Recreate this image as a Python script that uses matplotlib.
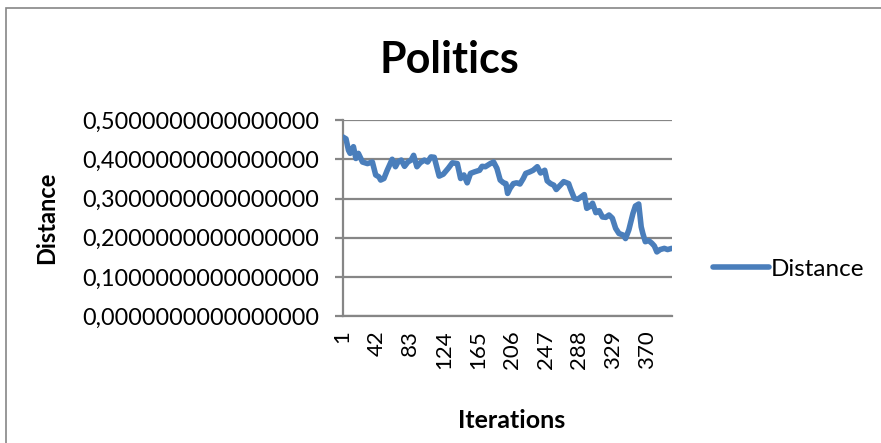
import matplotlib
matplotlib.use("Agg")
import matplotlib.pyplot as plt
from matplotlib.patches import Rectangle

# Iteration index and distance value at each sampled point of the run
iterations = [1, 5, 8, 10, 12, 14, 17, 20, 25, 31, 37, 41, 45, 47, 51, 55, 61, 65,
              68, 72, 76, 80, 84, 87, 91, 95, 100, 104, 108, 112, 118, 123, 129,
              134, 140, 144, 148, 152, 156, 161, 167, 170, 174, 180, 184, 188, 192,
              196, 199, 201, 204, 208, 212, 216, 220, 223, 228, 232, 237, 241, 246,
              249, 253, 257, 260, 264, 269, 275, 277, 282, 286, 290, 294, 297, 301,
              304, 308, 312, 316, 320, 324, 328, 332, 336, 341, 344, 348, 353, 356,
              360, 363, 365, 368, 372, 376, 379, 382, 386, 391, 395, 400]
distance = [0.457, 0.452, 0.423, 0.415, 0.423, 0.432, 0.402, 0.415, 0.393, 0.389,
            0.393, 0.360, 0.355, 0.347, 0.351, 0.372, 0.400, 0.381, 0.393, 0.398,
            0.382, 0.393, 0.398, 0.410, 0.381, 0.391, 0.398, 0.393, 0.406, 0.405,
            0.357, 0.362, 0.377, 0.391, 0.389, 0.351, 0.360, 0.340, 0.364, 0.368,
            0.372, 0.382, 0.381, 0.389, 0.393, 0.377, 0.347, 0.340, 0.338, 0.313,
            0.326, 0.338, 0.340, 0.337, 0.351, 0.364, 0.368, 0.372, 0.381, 0.365,
            0.372, 0.345, 0.338, 0.334, 0.323, 0.332, 0.343, 0.338, 0.326, 0.300,
            0.298, 0.304, 0.310, 0.275, 0.280, 0.288, 0.264, 0.269, 0.253, 0.252,
            0.258, 0.250, 0.224, 0.211, 0.207, 0.198, 0.220, 0.262, 0.281, 0.286,
            0.228, 0.211, 0.190, 0.193, 0.186, 0.179, 0.164, 0.170, 0.173, 0.170,
            0.173]

x_ticks = [1, 42, 83, 124, 165, 206, 247, 288, 329, 370]
y_ticks = [0.0, 0.1, 0.2, 0.3, 0.4, 0.5]
y_tick_labels = [f"{v:.16f}".replace(".", ",") for v in y_ticks]

plt.rcParams["font.family"] = ["Lato", "DejaVu Sans"]

W, H = 881, 443
fig = plt.figure(figsize=(W / 100, H / 100), dpi=100)
fig.patch.set_facecolor("white")

# chart frame
fig.patches.append(Rectangle((6 / W, -0.05), 1.2, (H - 8) / H + 0.05,
                             transform=fig.transFigure, fill=False,
                             edgecolor="#868686", linewidth=1.2))

ax = fig.add_axes([342.7 / W, (H - 316.3) / H, 329 / W, 196.3 / H])
grid_col = "#868686"

line, = ax.plot(iterations, distance, color="#4a7ebb", linewidth=4.0,
                solid_joinstyle="round", solid_capstyle="round",
                label="Distance", zorder=3)

ax.set_xlim(1, 400)
ax.set_ylim(0, 0.5)
ax.set_yticks(y_ticks)
ax.set_yticklabels(y_tick_labels, fontsize=16.8, color="black")
ax.set_xticks(x_ticks)
ax.set_xticklabels([str(t) for t in x_ticks], rotation=90, fontsize=16,
                   va="top", ha="center")

ax.yaxis.grid(True, color=grid_col, linewidth=1.6)
ax.set_axisbelow(True)
for s in ["top", "right"]:
    ax.spines[s].set_visible(False)
ax.spines["left"].set_color(grid_col)
ax.spines["left"].set_linewidth(1.6)
ax.spines["bottom"].set_color(grid_col)
ax.spines["bottom"].set_linewidth(1.6)
ax.tick_params(axis="y", length=6, width=1.6, color=grid_col, pad=11)
ax.tick_params(axis="x", length=0, pad=10)

ax.set_ylabel("Distance", fontsize=17, fontweight="bold")
ax.yaxis.set_label_coords((47 - 342.7) / 329, 0.5)
ax.set_xlabel("Iterations", fontsize=18, fontweight="bold")
ax.xaxis.set_label_coords((512 - 342.7) / 329, (316.3 - 420) / 196.3)
ax.xaxis.label.set_va("center")
ax.yaxis.label.set_va("center")

fig.text(449 / W, 1 - 60 / H, "Politics", fontsize=31, fontweight="bold",
         ha="center", va="center")

fig.legend(handles=[line], loc="center left",
           bbox_to_anchor=(691 / W, 1 - 269 / H), frameon=False,
           fontsize=17.5, handlelength=2.3, handletextpad=0.1)

fig.savefig("out.png", dpi=100, facecolor="white")
